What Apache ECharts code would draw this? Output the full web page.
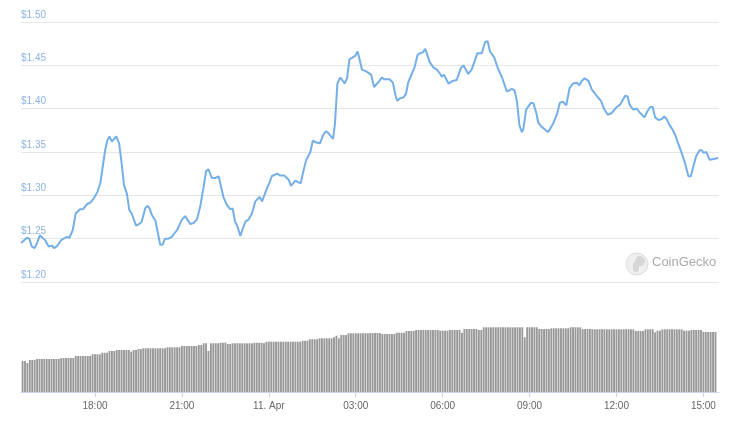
<!DOCTYPE html>
<html>
<head>
<meta charset="utf-8">
<script src="https://cdn.jsdelivr.net/npm/echarts@6/dist/echarts.min.js"></script>
<style>
html,body{margin:0;padding:0;background:#fff;}
#chart{width:729px;height:430px;}
</style>
</head>
<body>
<div id="chart"></div>
<script>
const priceTimes = [
'04-10 15:27','04-10 15:39','04-10 15:44','04-10 15:49','04-10 15:55','04-10 16:00','04-10 16:06','04-10 16:10','04-10 16:17','04-10 16:24',
'04-10 16:31','04-10 16:35','04-10 16:41','04-10 16:51','04-10 17:02','04-10 17:07','04-10 17:14','04-10 17:20','04-10 17:29','04-10 17:35',
'04-10 17:44','04-10 17:51','04-10 17:58','04-10 18:05','04-10 18:11','04-10 18:16','04-10 18:21','04-10 18:26','04-10 18:30','04-10 18:35',
'04-10 18:44','04-10 18:50','04-10 18:56','04-10 19:00','04-10 19:06','04-10 19:11','04-10 19:16','04-10 19:25','04-10 19:32','04-10 19:37',
'04-10 19:44','04-10 19:49','04-10 19:53','04-10 19:58','04-10 20:05','04-10 20:09','04-10 20:15','04-10 20:20','04-10 20:25','04-10 20:32',
'04-10 20:39','04-10 20:50','04-10 21:00','04-10 21:07','04-10 21:11','04-10 21:17','04-10 21:24','04-10 21:31','04-10 21:38','04-10 21:45',
'04-10 21:50','04-10 21:55','04-10 22:02','04-10 22:09','04-10 22:16','04-10 22:21','04-10 22:26','04-10 22:33','04-10 22:40','04-10 22:45',
'04-10 22:50','04-10 22:55','04-10 23:01','04-10 23:05','04-10 23:12','04-10 23:18','04-10 23:25','04-10 23:32','04-10 23:41','04-10 23:46',
'04-10 23:50','04-10 23:56',
'04-11 00:01','04-11 00:06','04-11 00:17','04-11 00:23','04-11 00:32','04-11 00:41','04-11 00:46','04-11 00:55','04-11 01:01','04-11 01:06',
'04-11 01:12','04-11 01:17','04-11 01:26','04-11 01:31','04-11 01:39','04-11 01:46','04-11 01:52','04-11 01:58','04-11 02:03','04-11 02:13',
'04-11 02:17','04-11 02:22','04-11 02:28','04-11 02:32','04-11 02:37','04-11 02:42','04-11 02:47','04-11 02:53','04-11 02:59','04-11 03:04',
'04-11 03:07','04-11 03:13','04-11 03:22','04-11 03:32','04-11 03:38','04-11 03:42','04-11 03:49','04-11 03:54','04-11 03:59','04-11 04:03',
'04-11 04:10','04-11 04:17','04-11 04:22','04-11 04:26','04-11 04:32','04-11 04:39','04-11 04:44','04-11 04:49','04-11 04:56','04-11 05:02',
'04-11 05:08','04-11 05:13','04-11 05:19','04-11 05:24','04-11 05:27','04-11 05:33','04-11 05:40','04-11 05:48','04-11 05:55','04-11 05:58',
'04-11 06:03','04-11 06:12','04-11 06:21','04-11 06:29','04-11 06:33','04-11 06:38','04-11 06:43','04-11 06:49','04-11 06:53','04-11 07:00',
'04-11 07:07','04-11 07:12','04-11 07:21','04-11 07:28','04-11 07:33','04-11 07:38','04-11 07:47','04-11 07:54','04-11 08:03','04-11 08:13',
'04-11 08:18','04-11 08:23','04-11 08:29','04-11 08:34','04-11 08:39','04-11 08:44','04-11 08:47','04-11 08:53','04-11 08:58','04-11 09:03',
'04-11 09:08','04-11 09:14','04-11 09:18','04-11 09:25','04-11 09:32','04-11 09:38','04-11 09:43','04-11 09:49','04-11 09:57','04-11 10:03',
'04-11 10:09','04-11 10:16','04-11 10:18','04-11 10:23','04-11 10:30','04-11 10:38','04-11 10:43','04-11 10:48','04-11 10:54','04-11 11:02',
'04-11 11:09','04-11 11:16','04-11 11:23','04-11 11:28','04-11 11:34','04-11 11:42','04-11 11:50','04-11 12:01','04-11 12:08','04-11 12:13',
'04-11 12:18','04-11 12:23','04-11 12:27','04-11 12:34','04-11 12:42','04-11 12:49','04-11 12:58','04-11 13:04','04-11 13:10','04-11 13:15',
'04-11 13:20','04-11 13:27','04-11 13:34','04-11 13:39','04-11 13:44','04-11 13:50','04-11 13:56','04-11 14:02','04-11 14:07','04-11 14:15',
'04-11 14:22','04-11 14:29','04-11 14:34','04-11 14:39','04-11 14:45','04-11 14:52','04-11 14:57','04-11 15:00','04-11 15:06','04-11 15:13',
'04-11 15:21','04-11 15:31'
];
const priceValues = [
1.245,1.251,1.250,1.241,1.239,1.245,1.254,1.255,1.248,1.241,
1.242,1.239,1.241,1.249,1.252,1.251,1.260,1.279,1.284,1.284,
1.290,1.292,1.297,1.304,1.314,1.333,1.352,1.364,1.368,1.362,
1.368,1.360,1.333,1.312,1.302,1.283,1.279,1.265,1.267,1.270,
1.285,1.288,1.285,1.277,1.271,1.260,1.243,1.243,1.250,1.250,
1.252,1.260,1.272,1.276,1.276,1.267,1.268,1.272,1.287,1.310,
1.328,1.330,1.320,1.320,1.322,1.310,1.298,1.289,1.284,1.285,
1.270,1.264,1.253,1.260,1.270,1.272,1.279,1.293,1.298,1.293,
1.294,1.308,
1.314,1.322,1.325,1.323,1.323,1.318,1.311,1.317,1.315,1.314,
1.329,1.340,1.350,1.363,1.361,1.360,1.369,1.374,1.372,1.365,
1.383,1.429,1.436,1.434,1.429,1.435,1.457,1.459,1.461,1.466,
1.465,1.445,1.443,1.439,1.425,1.425,1.432,1.436,1.434,1.435,
1.434,1.430,1.416,1.409,1.412,1.413,1.417,1.431,1.440,1.448,
1.462,1.464,1.465,1.469,1.468,1.454,1.448,1.445,1.440,1.437,
1.439,1.429,1.432,1.433,1.435,1.447,1.450,1.444,1.440,1.445,
1.456,1.464,1.464,1.477,1.478,1.466,1.459,1.447,1.436,1.420,
1.421,1.423,1.421,1.408,1.381,1.373,1.376,1.399,1.403,1.407,
1.406,1.395,1.384,1.379,1.376,1.373,1.377,1.383,1.394,1.407,
1.408,1.404,1.405,1.424,1.429,1.430,1.427,1.432,1.435,1.432,
1.422,1.417,1.412,1.409,1.400,1.393,1.395,1.402,1.405,1.410,
1.415,1.414,1.405,1.399,1.400,1.395,1.390,1.397,1.402,1.402,
1.390,1.387,1.388,1.391,1.388,1.381,1.376,1.369,1.361,1.349,
1.337,1.322,1.322,1.333,1.345,1.352,1.352,1.349,1.350,1.341,
1.342,1.343
];
// 5-minute volume bars (relative units)
const volumeStart = '2021-04-10T15:30';
const volumes = [
31,31,29,32,32,32,33,33,33,33,
33,33,33,33,33,33,34,34,34,34,
34,34,36,36,36,36,36,36,36,37.7,
37.7,37.7,37.7,39.3,39.3,39.3,41,41,41,42,
42,42,42,42,42,40.3,42,42,43,43,
43.7,43.7,43.7,43.7,43.7,43.7,43.7,43.7,43.7,43.7,
44.7,44.7,44.7,44.7,44.7,44.7,46,46,46,46,
46,46,46,47,47,48.7,48.7,41,48.7,48.7,
48.7,48.7,49.3,49.3,49.3,48,48,48.7,48.7,48.7,
48.7,48.7,48.7,48.7,48.7,48.7,49.3,49.3,49.3,49.3,
48.7,50.3,50.3,50.3,50.3,50.3,50.3,50.3,50.3,50.3,
50.3,50.3,50.3,50.3,50.3,50.3,51.3,51.3,51.3,52.7,
52.7,52.7,52.7,53.7,53.7,53.7,53.7,53.7,53.7,54.7,
56.3,53.7,57,57,57,58.7,58.7,58.7,58.7,58.7,
58.7,58.7,58.7,58.7,59,59,59,59,59,58,
58,58,58,58,58,59.3,59.3,59.3,59.3,61,
61,61,61,62,62,62,62,62,62,62,
62,62,62,61.3,61.3,61.3,61.3,62,62,62,
62,62,59.3,63,63,63,63,63,63,62,
62,64.7,64.7,64.7,64.7,64.7,64.7,64.7,64.7,64.7,
64.7,64.7,64.7,64.7,64.7,64.7,64.7,64.7,54.7,64.7,
64.7,64.7,64.7,64.7,63,63,63,63,63,63.7,
63.7,63.7,63.7,63.7,63.7,63.7,63.7,64.7,64.7,64.7,
64.7,64.7,63,63,63,63,62.7,62.7,62.7,62.7,
62.7,62.7,62.7,62.7,62.7,62.7,62.7,62.7,62.7,62.7,
62.7,62.7,62.7,62.7,61,61,61,61,62.7,62.7,
62.7,62.7,59.7,61.3,61.3,62.7,62.7,62.7,62.7,62.7,
62.7,62.7,62.7,62.7,61.3,61.3,61.3,62,62,62,
62,62,60.3,60,60,60,60,60
];
const yTicks = [1.20, 1.25, 1.30, 1.35, 1.40, 1.45, 1.50];
const xTickTimes = ['04-10 18:00','04-10 21:00','04-11 00:00','04-11 03:00','04-11 06:00','04-11 09:00','04-11 12:00','04-11 15:00'];
const xTickLabels = ['18:00','21:00','11. Apr','03:00','06:00','09:00','12:00','15:00'];
const axisStart = '2021-04-10T15:26:44';
const axisEnd = '2021-04-11T15:32:20';

const toDate = s => new Date('2021-' + s.replace(' ', 'T')).getTime();
const priceData = priceTimes.map((t, i) => [toDate(t), priceValues[i]]);
const v0 = new Date(volumeStart).getTime();
const volumeData = volumes.map((v, i) => [v0 + i * 5 * 60000, v]);
const xMin = new Date(axisStart).getTime();
const xMax = new Date(axisEnd).getTime();
const tickVals = xTickTimes.map(toDate);
const FONT = 'Liberation Sans';

const chart = echarts.init(document.getElementById('chart'), null, {renderer: 'canvas'});
chart.setOption({
  animation: false,
  backgroundColor: '#ffffff',
  textStyle: {fontFamily: FONT},
  grid: [
    {left: 21, right: 10, top: 22, height: 260},
    {left: 21, right: 10, top: 300, height: 92}
  ],
  xAxis: [
    {type: 'value', gridIndex: 0, min: xMin, max: xMax, show: false, splitLine: {show: false}},
    {type: 'value', gridIndex: 1, min: xMin, max: xMax, scale: true,
     axisLine: {show: true, onZero: false, lineStyle: {color: '#ccd6eb', width: 1}},
     axisTick: {show: true, length: 5, lineStyle: {color: '#ccd6eb'}, customValues: tickVals},
     splitLine: {show: false},
     axisLabel: {
       color: '#666666', fontSize: 10, margin: 9, fontFamily: FONT,
       customValues: tickVals,
       formatter: function (val) {
         let k = -1;
         tickVals.forEach((t, j) => { if (Math.abs(t - val) < 1000) k = j; });
         return k >= 0 ? xTickLabels[k] : '';
       }
     }
    }
  ],
  yAxis: [
    {type: 'value', gridIndex: 0, min: yTicks[0], max: yTicks[yTicks.length - 1], interval: 0.05,
     axisLine: {show: false}, axisTick: {show: false},
     splitLine: {show: true, lineStyle: {color: '#e6e6e6', width: 1}},
     axisLabel: {inside: true, margin: 0, verticalAlign: 'bottom', padding: [0, 0, 2, 0],
       color: '#8fb4e4', fontSize: 10, fontFamily: FONT,
       formatter: v => '$' + v.toFixed(2)}
    },
    {type: 'value', gridIndex: 1, min: 0, max: 92, show: false}
  ],
  graphic: [
    {type: 'circle', shape: {cx: 637, cy: 264, r: 11}, style: {fill: '#efefef', stroke: '#dddddd', lineWidth: 1}, z: 1},
    {type: 'circle', shape: {cx: 640, cy: 261, r: 5}, style: {fill: '#d6d6d6'}, z: 2},
    {type: 'rect', shape: {x: 633, y: 262, width: 6, height: 10, r: 3}, style: {fill: '#d6d6d6'}, z: 2},
    {type: 'text', left: 652, top: 256, style: {text: 'CoinGecko', fill: '#aaaaaa', fontSize: 13, fontFamily: FONT}, z: 2}
  ],
  series: [
    {type: 'line', xAxisIndex: 0, yAxisIndex: 0, data: priceData, showSymbol: false,
     smooth: false, lineStyle: {color: '#74afe8', width: 2}, itemStyle: {color: '#74afe8'}, z: 3},
    {type: 'bar', xAxisIndex: 1, yAxisIndex: 1, data: volumeData, barWidth: 1.9,
     itemStyle: {color: '#999999'}}
  ]
});
</script>
</body>
</html>
